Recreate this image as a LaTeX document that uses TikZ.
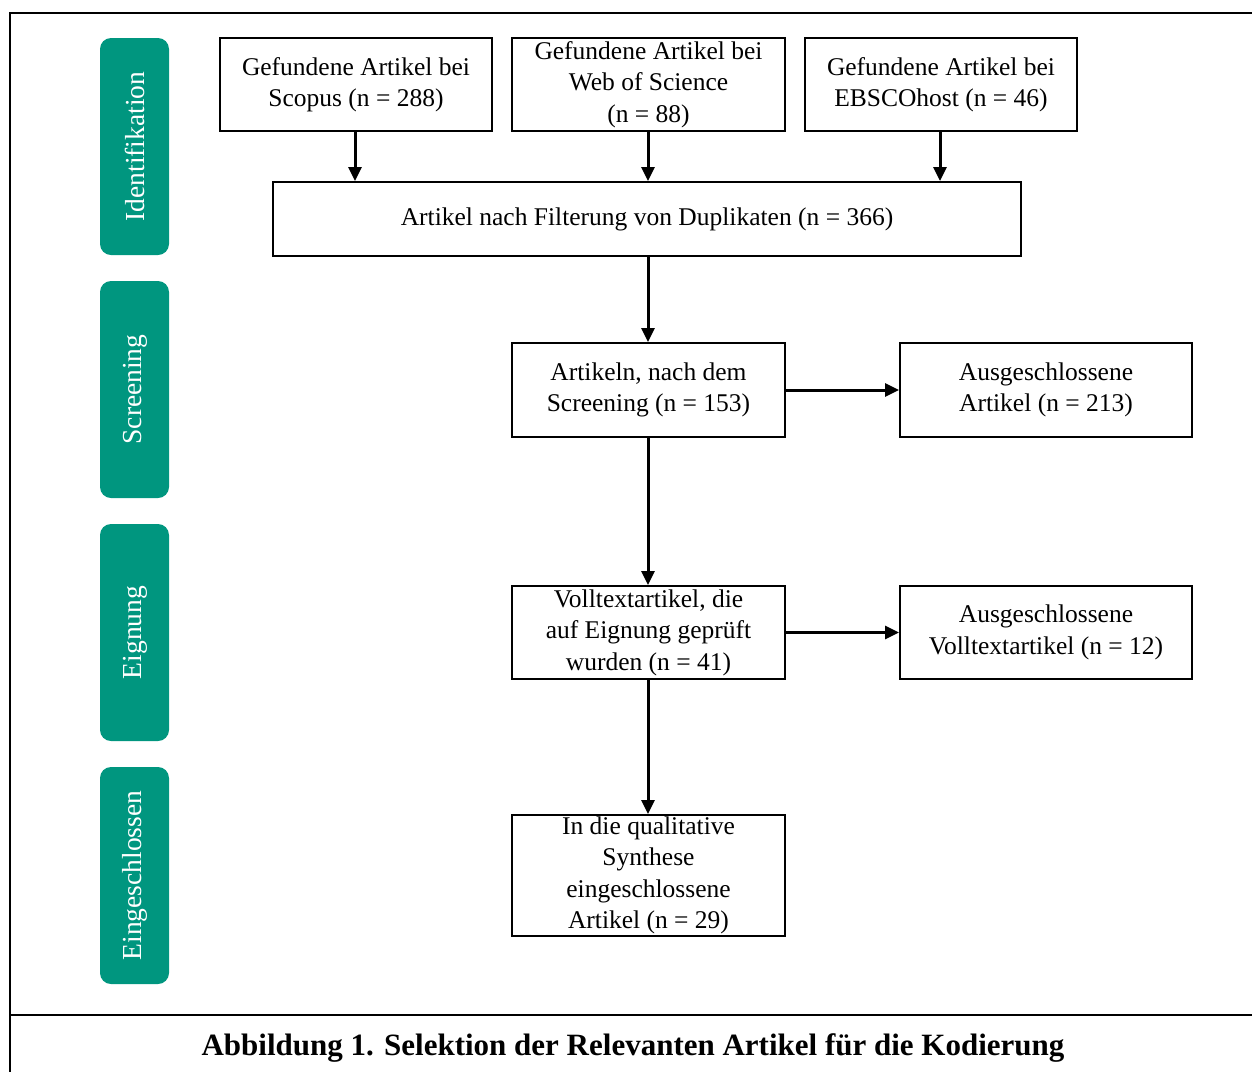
\documentclass[tikz,border=0pt]{standalone}
\usepackage{fontspec}
\setmainfont{Liberation Serif}
\usetikzlibrary{arrows.meta}
\definecolor{phaseteal}{HTML}{00967F}
\tikzset{
  box/.style={draw=black, line width=2pt, fill=white, inner sep=0pt, align=center, font=\fontsize{25.5}{31.5}\selectfont},
  phase/.style={fill=phaseteal, rounded corners=11pt, inner sep=0pt},
  phaselabel/.style={text=white, rotate=90, font=\fontsize{27.5}{30}\selectfont},
  flow/.style={line width=3pt, -{Triangle[length=14pt, width=13pt]}},
}
\newcommand{\boxat}[6]{% name, x1, y1, x2, y2, text
  \node[box, minimum width={#4-#2}, minimum height={#5-#3}] (#1) at ({(#2+#4)/2},{(#3+#5)/2}) {#6};}
\begin{document}
\begin{tikzpicture}[x=1pt, y=-1pt]
\useasboundingbox (0,0) rectangle (1252,1072);
% outer frame and caption rule
\draw[line width=2.5pt] (1252,13) -- (10,13) -- (10,1072);
\draw[line width=2.5pt] (10,1015) -- (1252,1015);
\node[font=\bfseries\fontsize{31}{34}\selectfont] (caption) at (633,1048) {Abbildung 1. Selektion der Relevanten Artikel für die Kodierung};

% phase bars
\foreach \name/\ya/\yb/\lab in {pid/38/255/Identifikation, psc/281/498/Screening, pel/524/741/Eignung, pin/767/984/Eingeschlossen}{
  \fill[phase] (100,\ya) rectangle (169,\yb);
  \node[phaselabel] (\name) at (135,{(\ya+\yb)/2}) {\lab};
}

% boxes
\boxat{scopus}{220}{38}{492}{131}{Gefundene Artikel bei\\Scopus (n = 288)}
\boxat{wos}{512}{38}{785}{131}{Gefundene Artikel bei\\Web of Science\\(n = 88)}
\boxat{ebsco}{805}{38}{1077}{131}{Gefundene Artikel bei\\EBSCOhost (n = 46)}
\boxat{dup}{273}{182}{1021}{256}{Artikel nach Filterung von Duplikaten (n = 366)}
\boxat{scr}{512}{343}{785}{437}{Artikeln, nach dem\\Screening (n = 153)}
\boxat{exa}{900}{343}{1192}{437}{Ausgeschlossene\\Artikel (n = 213)}
\boxat{full}{512}{586}{785}{679}{Volltextartikel, die\\auf Eignung geprüft\\wurden (n = 41)}
\boxat{exb}{900}{586}{1192}{679}{Ausgeschlossene\\Volltextartikel (n = 12)}
\boxat{inc}{512}{815}{785}{936}{In die qualitative\\Synthese\\eingeschlossene\\Artikel (n = 29)}

% connectors
\draw[flow] (scopus.south -| 355,0) -- (dup.north -| 355,0);
\draw[flow] (wos.south -| 648,0) -- (dup.north -| 648,0);
\draw[flow] (ebsco.south -| 940,0) -- (dup.north -| 940,0);
\draw[flow] (dup.south -| 648,0) -- (scr.north -| 648,0);
\draw[flow] (scr.east) -- (exa.west);
\draw[flow] (scr.south -| 648,0) -- (full.north -| 648,0);
\draw[flow] (full.east) -- (exb.west);
\draw[flow] (full.south -| 648,0) -- (inc.north -| 648,0);
\end{tikzpicture}
\end{document}
